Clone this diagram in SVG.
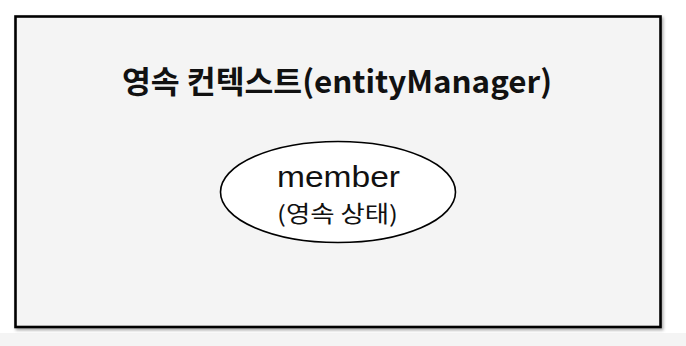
<svg xmlns="http://www.w3.org/2000/svg" width="686" height="346" viewBox="0 0 686 346">
  <defs>
    <filter id="shadow" x="-5%" y="-5%" width="110%" height="115%">
      <feDropShadow dx="1.5" dy="2" stdDeviation="1.5" flood-color="#000" flood-opacity="0.35"/>
    </filter>
    <style>
      .title { font-family: "Noto Sans CJK KR", "Noto Sans", sans-serif; font-weight: 700; font-size: 31px; fill: #111; }
      .lbl { font-family: "Liberation Sans", "Noto Sans CJK KR", sans-serif; fill: #111; }
      .cjk { font-family: "Noto Sans CJK KR", "Liberation Sans", sans-serif; fill: #111; }
    </style>
  </defs>
  <rect x="0" y="0" width="686" height="346" fill="#ffffff"/>
  <rect x="0" y="333" width="686" height="13" fill="#f4f4f4"/>
  <g id="persistence-context">
    <rect x="15.5" y="16.5" width="645" height="310.5" fill="#f4f4f4" stroke="#000" stroke-width="2.6" filter="url(#shadow)"/>
    <text class="title" x="337" y="92.5" text-anchor="middle" textLength="430" lengthAdjust="spacingAndGlyphs">영속 컨텍스트(entityManager)</text>
  </g>
  <g id="member">
    <ellipse cx="338" cy="192" rx="117.5" ry="50.5" fill="#ffffff" stroke="#000" stroke-width="1.6"/>
    <text class="lbl" x="338.5" y="187" text-anchor="middle" font-size="30" textLength="123" lengthAdjust="spacingAndGlyphs">member</text>
    <text class="cjk" x="337.5" y="221.5" text-anchor="middle" font-size="22.5" textLength="121" lengthAdjust="spacingAndGlyphs">(영속 상태)</text>
  </g>
  <g id="connectors"/>
</svg>
